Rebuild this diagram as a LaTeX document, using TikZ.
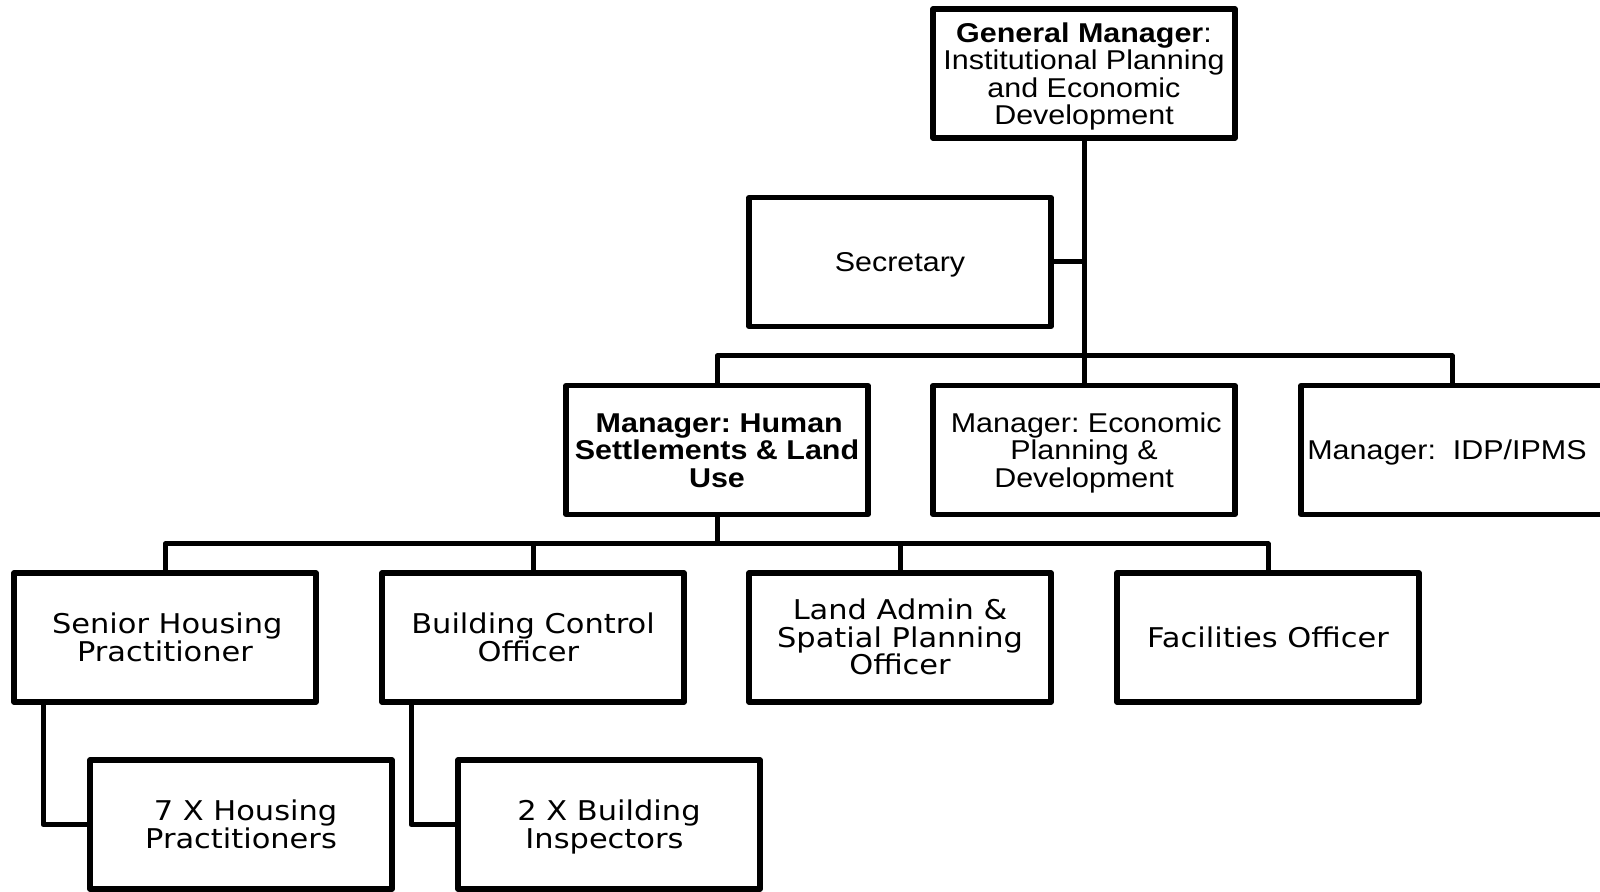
\documentclass[tikz,border=0pt]{standalone}
\usepackage{fontspec}
\setmainfont{Liberation Sans}[FakeStretch=1.12]
\newfontfamily\dejavu{DejaVu Sans}[FakeStretch=1.12]
\newcommand\armfont{\fontsize{13.6}{13.75}\selectfont}
\newcommand\djfont{\dejavu\fontsize{13.6}{13.75}\selectfont}
\newcommand\tp{\rule{0pt}{13.4pt}}
\newcommand\bt{\rule[-3.5pt]{0pt}{3.5pt}}
\frenchspacing
\begin{document}
\begin{tikzpicture}[x=0.5pt,y=-0.5pt,line width=2.5pt,line join=round,
  box/.style={draw,line width=2.6pt,minimum width=151pt,minimum height=64.5pt,
    inner sep=1pt,outer sep=0pt,align=center,font=\armfont},
  dbox/.style={box,font=\djfont}]
\useasboundingbox (0,0) rectangle (1600,892);
\fill[white] (0,0) rectangle (1600,892);
\node[box] (gm) at (1084,73.5) {\tp\textbf{General Manager}:\\Institutional Planning\\and Economic\\Development\bt};
\node[box] (sec) at (900,262) {\tp Secretary\bt};
\node[box] (hs) at (717,450) {\tp\textbf{\,Manager: Human}\\\textbf{Settlements \& Land}\\\textbf{Use}\bt};
\node[box] (econ) at (1084,450) {\tp\,Manager: Economic\\Planning \&\\Development\bt};
\node[box] (idp) at (1452,450) {\tp Manager:\ \ IDP/IPMS\hspace*{5pt}\bt};
\node[dbox] (shp) at (165,637.5) {\tp\,Senior Housing\\Practitioner\bt};
\node[dbox] (bco) at (533,637.5) {\tp Building Control\\Officer\,\,\bt};
\node[dbox] (lasp) at (900,637.5) {\tp Land Admin \&\\Spatial Planning\\Officer\bt};
\node[dbox] (fo) at (1268,637.5) {\tp Facilities Officer\bt};
\node[dbox] (hp) at (241,824.5) {\tp\,\,7 X Housing\\Practitioners\bt};
\node[dbox] (bi) at (609,824.5) {\tp 2 X Building\\Inspectors\,\,\bt};
\coordinate (b1) at (1084,356);
\coordinate (b2) at (717,544);
\draw (gm.south) -- (econ.north);
\draw (sec.east) -- (sec.east -| gm.south);
\draw (hs.north) |- (b1) -| (idp.north);
\draw (hs.south) -- (b2);
\draw (shp.north) |- (b2) -| (fo.north);
\draw (bco.north) -- (bco.north |- b2);
\draw (lasp.north) -- (lasp.north |- b2);
\draw ([xshift=14.5pt]shp.south west) |- (hp.west);
\draw ([xshift=14.5pt]bco.south west) |- (bi.west);
\end{tikzpicture}
\end{document}
